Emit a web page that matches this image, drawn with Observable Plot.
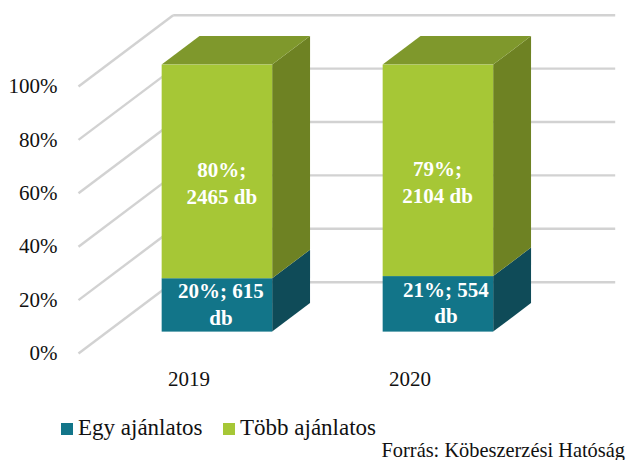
<!DOCTYPE html>
<html>
<head>
<meta charset="utf-8">
<script src="https://cdn.jsdelivr.net/npm/d3@7"></script>
<script src="https://cdn.jsdelivr.net/npm/@observablehq/plot@0.6"></script>
<style>
html,body{margin:0;padding:0;background:#fff}
#wrap{position:relative;width:627px;height:460px;overflow:hidden;font-family:"Palatino Linotype","Book Antiqua",Palatino,"Liberation Serif",serif;color:#111}
#wrap svg{display:block;position:absolute;left:0;top:0}
.lg{position:absolute;font-size:23px;line-height:26px;top:415px;white-space:nowrap}
.sw{position:absolute;top:423px;width:12px;height:12px}
#src{position:absolute;right:2px;top:438px;font-size:20.4px;line-height:24px;white-space:nowrap}
</style>
</head>
<body>
<div id="wrap"></div>
<script>
const years = ["2019", "2020"];
const seriesNames = ["Egy ajánlatos", "Több ajánlatos"];
const egyCount = [615, 554];
const tobbCount = [2465, 2104];
const egyShare = [20, 20.8];
const tobbShare = [80, 79.2];
const labelEgy = ["20%; 615\ndb", "21%; 554\ndb"];
const labelTobb = ["80%;\n2465 db", "79%;\n2104 db"];
const percentTicks = [0, 20, 40, 60, 80, 100];
const frontColors = ["#127589", "#A6C736"];
const sideColors = ["#0F4B58", "#6E8223"];
const topColor = "#7F982C";
const gridColor = "#D2D2D2";
const fontStack = '"Palatino Linotype","Book Antiqua",Palatino,"Liberation Serif",serif';

// oblique depth of the floor, in data units of x and y
const depthX = 0.4285;
const depthY = 26.7;
const near = 0.3, far = 0.7;
const barFrom = 0.25, barTo = 0.75;

// small offsets of the data labels from the face centres, in data units
const nudgeEgyX = [0.016, 0.034];
const nudgeTobbX = [0.02, -0.004];
const nudgeEgyY = 1.1;
const nudgeTobbY = -3.9;

const slabs = [];
years.forEach((year, i) => {
  slabs.push({year, i, s: 0, y1: 0, y2: egyShare[i], label: labelEgy[i], nx: nudgeEgyX[i], ny: nudgeEgyY, count: egyCount[i]});
  slabs.push({year, i, s: 1, y1: egyShare[i], y2: egyShare[i] + tobbShare[i], label: labelTobb[i], nx: nudgeTobbX[i], ny: nudgeTobbY, count: tobbCount[i]});
});
const fx1 = d => d.i + barFrom + near * depthX;
const fx2 = d => d.i + barTo + near * depthX;
const fy = v => v + near * depthY;
const sides = slabs.flatMap(d => [near, far].map(k => ({
  key: d.year + d.s, s: d.s,
  x: d.i + barTo + k * depthX,
  y1: d.y1 + k * depthY,
  y2: d.y2 + k * depthY
})));
const tops = years.flatMap((year, i) => [near, far].map(k => ({
  key: year,
  y: egyShare[i] + tobbShare[i] + k * depthY,
  x1: i + barFrom + k * depthX,
  x2: i + barTo + k * depthX
})));

const chart = Plot.plot({
  width: 627,
  height: 405,
  marginTop: 86,
  marginBottom: 52,
  marginLeft: 78,
  marginRight: 107,
  style: {fontFamily: fontStack, background: "transparent", color: "#111"},
  x: {domain: [0, 2], axis: null},
  y: {domain: [0, 100], axis: null},
  marks: [
    Plot.link(percentTicks, {x1: 0, x2: depthX, y1: d => d, y2: d => d + depthY, stroke: gridColor, strokeWidth: 2.4}),
    Plot.link(percentTicks, {x1: depthX, x2: 2 + depthX, y1: d => d + depthY, y2: d => d + depthY, stroke: gridColor, strokeWidth: 2.4}),
    Plot.areaY(sides, {x: "x", y1: "y1", y2: "y2", z: "key", fill: d => sideColors[d.s]}),
    Plot.areaX(tops, {y: "y", x1: "x1", x2: "x2", z: "key", fill: topColor}),
    Plot.rect(slabs, {x1: fx1, x2: fx2, y1: d => fy(d.y1), y2: d => fy(d.y2), fill: d => frontColors[d.s]}),
    Plot.text(slabs, {
      x: d => (fx1(d) + fx2(d)) / 2 + d.nx,
      y: d => fy((d.y1 + d.y2) / 2) + d.ny,
      text: "label", fill: "#fff", fontWeight: "bold", fontSize: 21, lineHeight: 1.28
    }),
    Plot.axisY(percentTicks, {tickSize: 0, tickPadding: 21, fontSize: 21, tickFormat: d => d + "%", label: null}),
    Plot.text(years, {x: (d, i) => i + 0.5, y: 0, dy: 26, text: d => d, fontSize: 21})
  ]
});

const wrap = document.getElementById("wrap");
wrap.appendChild(chart);
const lgX = [[61, 78], [223, 240]];
seriesNames.forEach((name, i) => {
  const sw = document.createElement("div");
  sw.className = "sw"; sw.style.left = lgX[i][0] + "px"; sw.style.background = frontColors[i];
  wrap.appendChild(sw);
  const t = document.createElement("div");
  t.className = "lg"; t.style.left = lgX[i][1] + "px"; t.textContent = name;
  wrap.appendChild(t);
});
const src = document.createElement("div");
src.id = "src"; src.textContent = "Forrás: Köbeszerzési Hatóság";
wrap.appendChild(src);
</script>
</body>
</html>
